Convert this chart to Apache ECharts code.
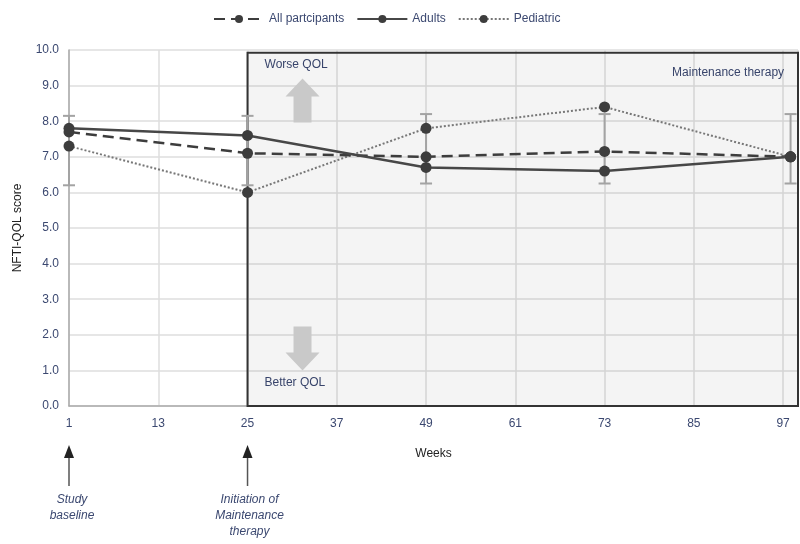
<!DOCTYPE html>
<html>
<head>
<meta charset="utf-8">
<script src="https://cdn.jsdelivr.net/npm/echarts@6/dist/echarts.min.js"></script>
<style>
  html, body { margin: 0; padding: 0; background: #fff; }
  #chart { width: 800px; height: 544px; }
</style>
</head>
<body>
<div id="chart"></div>
<script>
// Visit weeks and NFTI-QOL mean scores
var weeks = [1, 25, 49, 73, 98];
var allParticipants = [7.7, 7.1, 7.0, 7.15, 7.0];
var adults = [7.8, 7.6, 6.7, 6.6, 7.0];
var pediatric = [7.3, 6.0, 7.8, 8.4, 7.0];
// error bar range per visit
var errLow = [6.2, 6.2, 6.25, 6.25, 6.25];
var errHigh = [8.15, 8.15, 8.2, 8.2, 8.2];

var xTickWeeks = [1, 13, 25, 37, 49, 61, 73, 85, 97];
var maintenanceStart = 25;

var FONT = '"Liberation Sans", Arial, sans-serif';
var TXT = '#3b4870';

// x axis runs on (week - 1) so the 12-week ticks start at 0
function xOf(w) { return w - 1; }
function pairs(vals) { return weeks.map(function (w, i) { return [xOf(w), vals[i]]; }); }

var chart = echarts.init(document.getElementById('chart'));

var option = {
  animation: false,
  backgroundColor: '#fff',
  textStyle: { fontFamily: FONT },
  legend: {
    top: 8,
    left: 208,
    itemWidth: 50,
    itemHeight: 10,
    itemGap: 12,
    textStyle: { color: TXT, fontSize: 12, fontFamily: FONT },
    data: ['All partcipants', 'Adults', 'Pediatric']
  },
  grid: { left: 69, right: 2, top: 50, bottom: 138, containLabel: false, outerBoundsMode: 'none' },
  xAxis: {
    type: 'value',
    min: 0,
    max: 98,
    interval: 12,
    name: 'Weeks',
    nameLocation: 'middle',
    nameGap: 42,
    nameTextStyle: { color: '#222', fontSize: 12, fontFamily: FONT },
    axisLine: { lineStyle: { color: '#aaa', width: 1.5 } },
    axisTick: { show: false },
    axisLabel: {
      color: TXT, fontSize: 12, margin: 12, fontFamily: FONT, showMaxLabel: false,
      formatter: function (v) { return xTickWeeks.indexOf(v + 1) >= 0 ? String(v + 1) : ''; }
    },
    splitLine: { show: true, lineStyle: { color: '#dedede', width: 1.5 } }
  },
  yAxis: {
    type: 'value',
    min: 0,
    max: 10,
    interval: 1,
    name: 'NFTI-QOL score',
    nameLocation: 'middle',
    nameGap: 45,
    nameTextStyle: { color: '#222', fontSize: 12, fontFamily: FONT },
    axisLine: { show: true, lineStyle: { color: '#aaa', width: 1.5 } },
    axisTick: { show: false },
    axisLabel: {
      color: TXT, fontSize: 12, margin: 10, fontFamily: FONT,
      formatter: function (v) { return v.toFixed(1); }
    },
    splitLine: { show: true, lineStyle: { color: '#dedede', width: 1.5 } }
  },
  series: [
    {
      name: 'errorbars',
      type: 'custom',
      z: 1,
      silent: true,
      data: weeks.map(function (w, i) { return [xOf(w), errLow[i], errHigh[i]]; }),
      renderItem: function (params, api) {
        var x = api.value(0);
        var lo = api.coord([x, api.value(1)]);
        var hi = api.coord([x, api.value(2)]);
        var cap = 6;
        var st = { stroke: '#a3a3a3', lineWidth: 2 };
        return {
          type: 'group',
          children: [
            { type: 'line', shape: { x1: lo[0], y1: lo[1], x2: hi[0], y2: hi[1] }, style: st },
            { type: 'line', shape: { x1: lo[0] - cap, y1: lo[1], x2: lo[0] + cap, y2: lo[1] }, style: st },
            { type: 'line', shape: { x1: hi[0] - cap, y1: hi[1], x2: hi[0] + cap, y2: hi[1] }, style: st }
          ]
        };
      },
      markArea: {
        silent: true,
        itemStyle: { color: 'rgba(0,0,0,0.045)', borderColor: '#333', borderWidth: 2 },
        data: [[{ xAxis: xOf(maintenanceStart), yAxis: 0 }, { xAxis: 98, yAxis: 9.92 }]]
      }
    },
    {
      name: 'Pediatric',
      type: 'line',
      z: 3,
      data: pairs(pediatric),
      symbol: 'circle',
      symbolSize: 11,
      itemStyle: { color: '#3d3d3d' },
      lineStyle: { color: '#777', width: 2, type: [2, 2] }
    },
    {
      name: 'All partcipants',
      type: 'line',
      z: 4,
      data: pairs(allParticipants),
      symbol: 'circle',
      symbolSize: 11,
      itemStyle: { color: '#3d3d3d' },
      lineStyle: { color: '#3d3d3d', width: 2.5, type: [11, 6] }
    },
    {
      name: 'Adults',
      type: 'line',
      z: 5,
      data: pairs(adults),
      symbol: 'circle',
      symbolSize: 11,
      itemStyle: { color: '#3d3d3d' },
      lineStyle: { color: '#474747', width: 2.5, type: 'solid' }
    }
  ]
};

chart.setOption(option);

// Annotations placed from data coordinates
function px(w, v) { return chart.convertToPixel({ gridIndex: 0 }, [xOf(w), v]); }

var pTop = px(maintenanceStart, 9.92);
var pBot = px(maintenanceStart, 0);
var arrowX = pTop[0] + 55;
var upTop = px(maintenanceStart, 9.2)[1];
var downBot = px(maintenanceStart, 1.0)[1];
var baseX = px(1, 0)[0];
var initX = px(maintenanceStart, 0)[0];
var axisY = pBot[1];
var rightX = px(97, 0)[0] + 1;

function upArrow(cx, tipY) {
  return [[cx, tipY], [cx + 17, tipY + 18], [cx + 9, tipY + 18], [cx + 9, tipY + 44],
          [cx - 9, tipY + 44], [cx - 9, tipY + 18], [cx - 17, tipY + 18]];
}
function downArrow(cx, tipY) {
  return [[cx, tipY], [cx + 17, tipY - 18], [cx + 9, tipY - 18], [cx + 9, tipY - 44],
          [cx - 9, tipY - 44], [cx - 9, tipY - 18], [cx - 17, tipY - 18]];
}
function pointer(x) {
  return [
    { type: 'line', shape: { x1: x, y1: axisY + 52, x2: x, y2: axisY + 80 }, style: { stroke: '#555', lineWidth: 1.5 } },
    { type: 'polygon', shape: { points: [[x, axisY + 39], [x + 5, axisY + 52], [x - 5, axisY + 52]] }, style: { fill: '#222' } }
  ];
}
var noteStyle = { fill: TXT, font: 'italic 12px ' + FONT, textAlign: 'center', textVerticalAlign: 'top', lineHeight: 16 };

chart.setOption({
  graphic: [
    { type: 'polygon', z: 0, silent: true, shape: { points: upArrow(arrowX, upTop) }, style: { fill: '#d3d3d3' } },
    { type: 'polygon', z: 0, silent: true, shape: { points: downArrow(arrowX, downBot) }, style: { fill: '#d3d3d3' } },
    { type: 'text', x: pTop[0] + 17, y: pTop[1] + 12, style: { text: 'Worse QOL', fill: TXT, font: '12px ' + FONT, textVerticalAlign: 'middle' } },
    { type: 'text', x: pTop[0] + 17, y: axisY - 23, style: { text: 'Better QOL', fill: TXT, font: '12px ' + FONT, textVerticalAlign: 'middle' } },
    { type: 'text', x: rightX, y: pTop[1] + 20, style: { text: 'Maintenance therapy', fill: TXT, font: '12px ' + FONT, textAlign: 'right', textVerticalAlign: 'middle' } }
  ].concat(pointer(baseX)).concat(pointer(initX)).concat([
    { type: 'text', x: baseX + 3, y: axisY + 86, style: Object.assign({ text: 'Study\nbaseline' }, noteStyle) },
    { type: 'text', x: initX + 2, y: axisY + 86, style: Object.assign({ text: 'Initiation of\nMaintenance\ntherapy' }, noteStyle) }
  ])
});
</script>
</body>
</html>
